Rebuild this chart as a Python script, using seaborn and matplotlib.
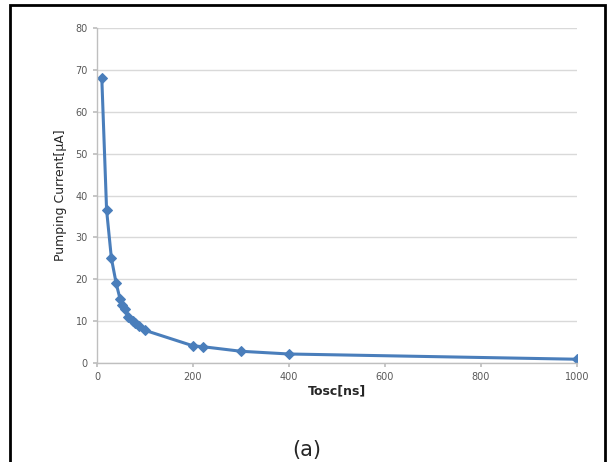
import matplotlib
matplotlib.use("Agg")
import matplotlib.pyplot as plt
import seaborn as sns
import pandas as pd
from matplotlib.patches import Rectangle

tosc_ns = [10, 20, 30, 40, 48, 53, 58, 65, 74, 80, 87, 100, 200, 220, 300, 400, 1000]
current_uA = [68.0, 36.5, 25.0, 19.0, 15.3, 13.8, 13.0, 11.0, 10.1, 9.5, 8.8, 7.8, 4.1, 3.9, 2.8, 2.15, 0.9]
x_ticks = [0, 200, 400, 600, 800, 1000]
y_ticks = [0, 10, 20, 30, 40, 50, 60, 70, 80]

df = pd.DataFrame({"Tosc": tosc_ns, "I": current_uA})

sns.set_theme(style="white")
plt.rcParams['font.family'] = ['DejaVu Sans']

fig = plt.figure(figsize=(6.14, 4.62), dpi=100)
ax = fig.add_axes([97/614, 1-363/462, (577-97)/614, (363-28)/462])

color = "#4A7EBB"
sns.lineplot(data=df, x="Tosc", y="I", ax=ax, color=color, linewidth=2.2,
             marker="D", markersize=5.5, markeredgecolor=color, sort=False)

ax.set_xlim(0, 1000)
ax.set_ylim(0, 80)
ax.set_xticks(x_ticks)
ax.set_yticks(y_ticks)
ax.grid(axis="y", color="#D9D9D9", linewidth=1)
ax.grid(axis="x", visible=False)
for s in ["top", "right"]:
    ax.spines[s].set_visible(False)
for s in ["left", "bottom"]:
    ax.spines[s].set_color("#BFBFBF")
    ax.spines[s].set_linewidth(1)
ax.tick_params(axis="both", labelsize=7, labelcolor="#595959", color="#BFBFBF",
               length=3, direction="out", left=True, bottom=True)
ax.set_xlabel("Tosc[ns]", fontsize=9, fontweight="bold", labelpad=2)
ax.set_ylabel("Pumping Current[μA]", fontsize=9, labelpad=6)

fig.patches.append(Rectangle((10/614, -0.05), (605-10)/614, 1-5/462+0.05,
                             transform=fig.transFigure, fill=False,
                             edgecolor="black", linewidth=2))
fig.text(0.5, 0.004, "(a)", ha="center", va="bottom", fontsize=15)

fig.savefig("out.png", dpi=100)
